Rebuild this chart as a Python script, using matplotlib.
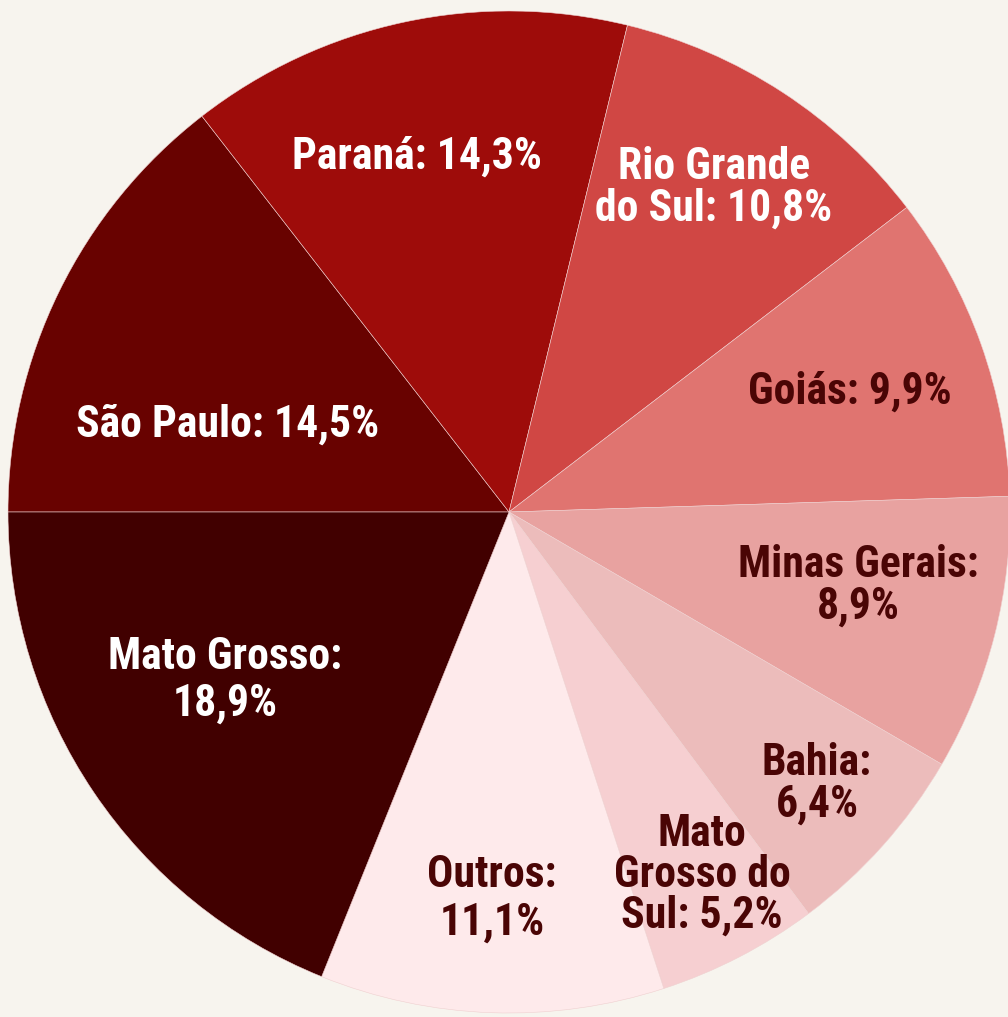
import matplotlib
matplotlib.use("Agg")
import matplotlib.pyplot as plt

# data
estados = ["São Paulo", "Paraná", "Rio Grande\ndo Sul", "Goiás", "Minas Gerais",
           "Bahia", "Mato\nGrosso do\nSul", "Outros", "Mato Grosso"]
valores = [14.5, 14.3, 10.8, 9.9, 8.9, 6.4, 5.2, 11.1, 18.9]
quebra = [False, False, False, False, True, True, False, True, True]  # value on next line
cores = ["#680200", "#9e0c0a", "#d04744", "#e07470", "#e8a2a0",
         "#ecbcbb", "#f6cfd1", "#feeaeb", "#410000"]
cor_texto = ["white", "white", "white", "#4a0505", "#4a0505",
             "#4a0505", "#4a0505", "#4a0505", "white"]

# label positions in pixels (x, y from top) and line spacing
pos = [(228, 425), (417, 157), (714, 188), (850, 392), (858, 586),
       (817, 784), (702, 875), (492, 899), (225, 680)]
esp = [1, 1, 0.97, 1, 0.97, 0.97, 0.97, 1.18, 1.15]

fam = ["Roboto Condensed", "Barlow Semi Condensed", "DejaVu Sans"]

W, H = 1008, 1017
fig = plt.figure(figsize=(W / 100, H / 100), dpi=100)
fig.patch.set_facecolor("#f7f4ee")
ax = fig.add_axes([0, 0, 1, 1])

ax.pie(valores, colors=cores, startangle=180, counterclock=False,
       center=(509, H - 512), radius=501, frame=True,
       wedgeprops=dict(edgecolor="#f0d0d0", linewidth=0.4))
ax.set_xlim(0, W)
ax.set_ylim(0, H)
ax.set_aspect("equal")
ax.axis("off")

for nome, v, q, c, (x, y), ls in zip(estados, valores, quebra, cor_texto, pos, esp):
    val = f"{v:.1f}%".replace(".", ",")
    txt = nome + (":\n" if q else ": ") + val
    ax.text(x, H - y, txt, ha="center", va="center", color=c,
            fontsize=31.5, fontweight="bold", family=fam, linespacing=ls)

fig.savefig("out.png", dpi=100, facecolor=fig.get_facecolor())
